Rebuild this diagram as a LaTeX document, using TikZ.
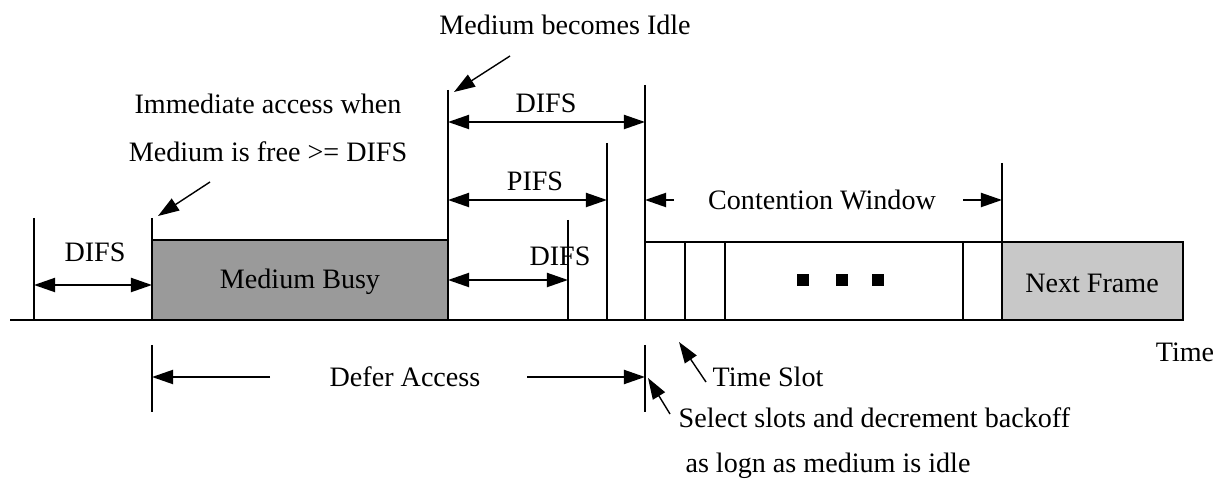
\documentclass[tikz,border=0pt]{standalone}
\usepackage{fontspec}
\setmainfont{Liberation Serif}
\usetikzlibrary{arrows.meta}
\definecolor{busygray}{HTML}{9A9A9A}
\definecolor{framegray}{HTML}{C8C8C8}
\tikzset{
	tip/.style={-{Triangle[length=12pt,width=8pt]}},
	dtip/.style={{Triangle[length=12pt,width=8pt]}-{Triangle[length=12pt,width=8pt]}},
	lbl/.style={font=\fontsize{16}{19}\selectfont,inner sep=1pt}
}
\begin{document}
\begin{tikzpicture}[x=0.02cm,y=-0.02cm,line width=1.1pt]
		\useasboundingbox (0,0) rectangle (1230,482);
		% time axis
		\draw (10,320) coordinate (t0) -- (1100,320) coordinate (t1);
		\node [lbl] (time) at (1185,352) {Time};
		% frames
		\draw [fill=busygray] (152,240) rectangle (448,320);
		\node [lbl] (busy) at (300,282) {Medium Busy};
		\draw (645,242) -- (1002,242);
		\foreach \x in {685,725,963}
			\draw (\x,242) -- (\x,320);
		\foreach \x in {803,842,878}
			\fill (\x-6,274) rectangle (\x+6,286);
		\draw [fill=framegray] (1002,242) rectangle (1183,320);
		\node [lbl] (next) at (1092,283) {Next Frame};
		% markers
		\draw (34,218) coordinate (m0) -- (34,320);
		\draw (152,218) coordinate (m1) -- (152,240);
		\draw (448,90) coordinate (m2) -- (448,320);
		\draw (568,220) coordinate (m3) -- (568,320);
		\draw (607,143) coordinate (m4) -- (607,320);
		\draw (645,85) coordinate (m5) -- (645,320);
		\draw (1002,163) coordinate (m6) -- (1002,242);
		% interframe spaces
		\draw [dtip] (m0 |- 0,285) -- (m1 |- 0,285);
		\node [lbl] (difsa) at (95,252) {DIFS};
		\draw [dtip] (m2 |- 0,122) -- (m5 |- 0,122);
		\node [lbl] (difsb) at (546,103) {DIFS};
		\draw [dtip] (m2 |- 0,200) -- (m4 |- 0,200);
		\node [lbl] (pifs) at (535,181) {PIFS};
		\draw [dtip] (m2 |- 0,280) -- (m3 |- 0,280);
		\node [lbl] (difsc) at (560,256) {DIFS};
		% contention window
		\node [lbl] (cw) at (822,200) {Contention Window};
		\draw [tip] (674,200) -- (m5 |- 0,200);
		\draw [tip] (963,200) -- (m6 |- 0,200);
		% defer access
		\draw (152,345) coordinate (d0) -- (152,412);
		\draw (645,345) coordinate (d1) -- (645,412);
		\node [lbl] (defer) at (405,377) {Defer Access};
		\draw [tip] (270,377) -- (d0 |- 0,377);
		\draw [tip] (527,377) -- (d1 |- 0,377);
		% annotations
		\node [lbl] (imm1) at (268,104) {Immediate access when};
		\node [lbl] (imm2) at (268,152) {Medium is free >= DIFS};
		\draw [tip,line width=0.8pt] (210,182) -- (158,216);
		\node [lbl] (idle) at (565,25) {Medium becomes Idle};
		\draw [tip,line width=0.8pt] (510,56) -- (454,92);
		\node [lbl,anchor=west] (slot) at (710,377) {Time Slot};
		\draw [tip,line width=0.8pt] (slot.west) ++(-4,5) -- (679,342);
		\node [lbl,anchor=west] (sel) at (676,418) {Select slots and decrement backoff};
		\draw [tip,line width=0.8pt] (sel.west) ++(-6,-4) -- (648,378);
		\node [lbl] (sel2) at (828,466) {as logn as medium is idle};
	\end{tikzpicture}
\end{document}
